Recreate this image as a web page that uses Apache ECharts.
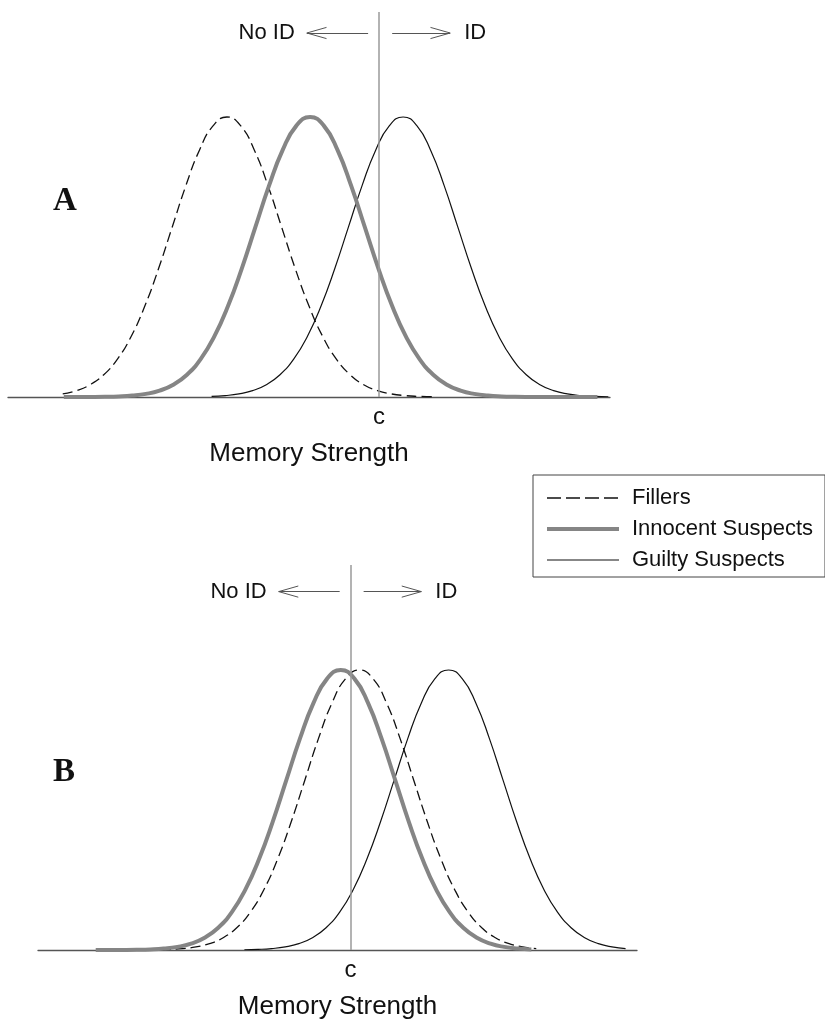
<!DOCTYPE html>
<html><head><meta charset="utf-8">
<script src="https://cdn.jsdelivr.net/npm/echarts@6/dist/echarts.min.js"></script>
<style>html,body{margin:0;padding:0;background:#fff}#c{width:825px;height:1022px}</style>
</head><body><div id="c"></div>
<script>
const SERIES_NAMES = ['Fillers', 'Innocent Suspects', 'Guilty Suspects'];
// bell-shaped profile (height relative to the peak) read at offsets from each curve's centre
const PROFILE_OFFSETS = [-5.5,-5.25,-5,-4.75,-4.5,-4.25,-4,-3.75,-3.5,-3.25,-3,-2.75,-2.5,-2.25,-2,-1.75,-1.5,-1.25,-1,-0.75,-0.5,-0.25,0,0.25,0.5,0.75,1,1.25,1.5,1.75,2,2.25,2.5,2.75,3,3.25,3.5,3.75,4,4.25,4.5,4.75,5,5.25,5.5];
const PROFILE_HEIGHTS = [0,0,0,0,0,0.0001,0.0003,0.0009,0.0022,0.0051,0.0111,0.0228,0.0439,0.0796,0.1353,0.2163,0.3247,0.4578,0.6065,0.7548,0.8825,0.9692,1,0.9692,0.8825,0.7548,0.6065,0.4578,0.3247,0.2163,0.1353,0.0796,0.0439,0.0228,0.0111,0.0051,0.0022,0.0009,0.0003,0.0001,0,0,0,0,0];
// curve centres on the memory-strength axis: Fillers, Innocent, Guilty
const MEANS_A = [3.0, 4.52, 6.22];
const MEANS_B = [4.9, 4.56, 6.54];
// drawn extent of each curve
const RANGES_A = [[0, 6.75], [0, 10], [2.5, 10]];
const RANGES_B = [[0, 8.2], [0, 8.1], [2.55, 10]];
const CRITERION = [5.78, 4.74];
const X_LABEL = 'Memory Strength';
const C_LABEL = 'c';
const NO_ID_LABEL = 'No ID';
const ID_LABEL = 'ID';
const PANEL_LABELS = ['A', 'B'];

const SANS = 'Liberation Sans, Arial, sans-serif';
const YMAX = 1.375;
const ARROW_Y = [1.30, 1.28];
const ARROW_L = [-1.32, -0.2];
const ARROW_R = [0.24, 1.3];
const HEAD = [0.36, 0.02];

const STYLES = [
  {color: '#111', width: 1.3, type: [10, 5]},
  {color: '#858585', width: 4, type: 'solid'},
  {color: '#111', width: 1.2, type: 'solid'}
];
const LEGEND_STYLES = [
  {color: '#111', width: 1.3, type: [14, 5]},
  {color: '#858585', width: 4, type: 'solid'},
  {color: '#111', width: 1.2, type: 'solid'}
];
const Z = [2, 4, 3];

function curve(mean, range) {
  const pts = [];
  for (let i = 0; i < PROFILE_OFFSETS.length; i++) {
    const x = mean + PROFILE_OFFSETS[i];
    if (x >= range[0] - 1e-9 && x <= range[1] + 1e-9) pts.push([x, PROFILE_HEIGHTS[i]]);
  }
  return pts;
}

const arrowStyle = {color: '#555', width: 1, type: 'solid'};
function markLines(p) {
  const c = CRITERION[p], y = ARROW_Y[p];
  const lx1 = c + ARROW_L[0], lx2 = c + ARROW_L[1];
  const rx1 = c + ARROW_R[0], rx2 = c + ARROW_R[1];
  const noLabel = {show: false};
  return {
    silent: true, symbol: 'none', animation: false,
    data: [
      [{coord: [c, 0], lineStyle: {color: '#9a9a9a', width: 1.5, type: 'solid'},
        label: {show: true, position: 'start', formatter: C_LABEL, fontSize: 24, fontFamily: SANS, color: '#111', distance: 8}},
       {coord: [c, YMAX]}],
      [{coord: [lx1, y], lineStyle: arrowStyle,
        label: {show: true, position: 'start', formatter: NO_ID_LABEL, fontSize: 22, fontFamily: SANS, color: '#111', distance: 12}},
       {coord: [lx2, y]}],
      [{coord: [lx1, y], lineStyle: arrowStyle, label: noLabel}, {coord: [lx1 + HEAD[0], y + HEAD[1]]}],
      [{coord: [lx1, y], lineStyle: arrowStyle, label: noLabel}, {coord: [lx1 + HEAD[0], y - HEAD[1]]}],
      [{coord: [rx1, y], lineStyle: arrowStyle,
        label: {show: true, position: 'end', formatter: ID_LABEL, fontSize: 22, fontFamily: SANS, color: '#111', distance: 14}},
       {coord: [rx2, y]}],
      [{coord: [rx2, y], lineStyle: arrowStyle, label: noLabel}, {coord: [rx2 - HEAD[0], y + HEAD[1]]}],
      [{coord: [rx2, y], lineStyle: arrowStyle, label: noLabel}, {coord: [rx2 - HEAD[0], y - HEAD[1]]}]
    ]
  };
}

const grids = [
  {left: 8, top: 12, width: 602, height: 385},
  {left: 38, top: 565, width: 599, height: 385}
];
const xAxes = grids.map((g, p) => ({
  type: 'value', gridIndex: p, min: -1, max: 10,
  axisLine: {show: true, lineStyle: {color: '#555', width: 1.3}},
  axisTick: {show: false}, axisLabel: {show: false}, splitLine: {show: false},
  name: X_LABEL, nameLocation: 'middle', nameGap: 44,
  nameTextStyle: {fontSize: 26, fontFamily: SANS, color: '#111'}
}));
const yAxes = grids.map((g, p) => ({type: 'value', gridIndex: p, min: 0, max: YMAX, show: false}));

const series = [];
[[MEANS_A, RANGES_A], [MEANS_B, RANGES_B]].forEach(([means, ranges], p) => {
  SERIES_NAMES.forEach((name, i) => {
    const s = {
      type: 'line', name, xAxisIndex: p, yAxisIndex: p,
      data: curve(means[i], ranges[i]),
      smooth: 0.5, symbol: 'none', showSymbol: false,
      lineStyle: STYLES[i], itemStyle: {color: STYLES[i].color},
      z: Z[i], animation: false, silent: true
    };
    if (i === 0) s.markLine = markLines(p);
    series.push(s);
  });
});

const chart = echarts.init(document.getElementById('c'), null, {renderer: 'canvas'});
chart.setOption({
  backgroundColor: '#fff',
  animation: false,
  title: [
    {text: PANEL_LABELS[0], left: 53, top: 185, padding: 0,
     textStyle: {fontFamily: 'Liberation Serif, Times New Roman, serif', fontWeight: 'bold', fontSize: 33, color: '#111'}},
    {text: PANEL_LABELS[1], left: 53, top: 756, padding: 0,
     textStyle: {fontFamily: 'Liberation Serif, Times New Roman, serif', fontWeight: 'bold', fontSize: 33, color: '#111'}}
  ],
  legend: {
    data: SERIES_NAMES.map((n, i) => ({name: n, lineStyle: LEGEND_STYLES[i]})),
    orient: 'vertical', left: 533, top: 475,
    itemWidth: 72, itemHeight: 14, itemGap: 9,
    padding: [12, 12, 6, 12], borderColor: '#444', borderWidth: 1,
    selectedMode: false, itemStyle: {opacity: 0},
    textStyle: {fontSize: 22, fontFamily: SANS, color: '#111', padding: [0, 0, 0, 8]}
  },
  grid: grids, xAxis: xAxes, yAxis: yAxes, series
});
</script></body></html>
